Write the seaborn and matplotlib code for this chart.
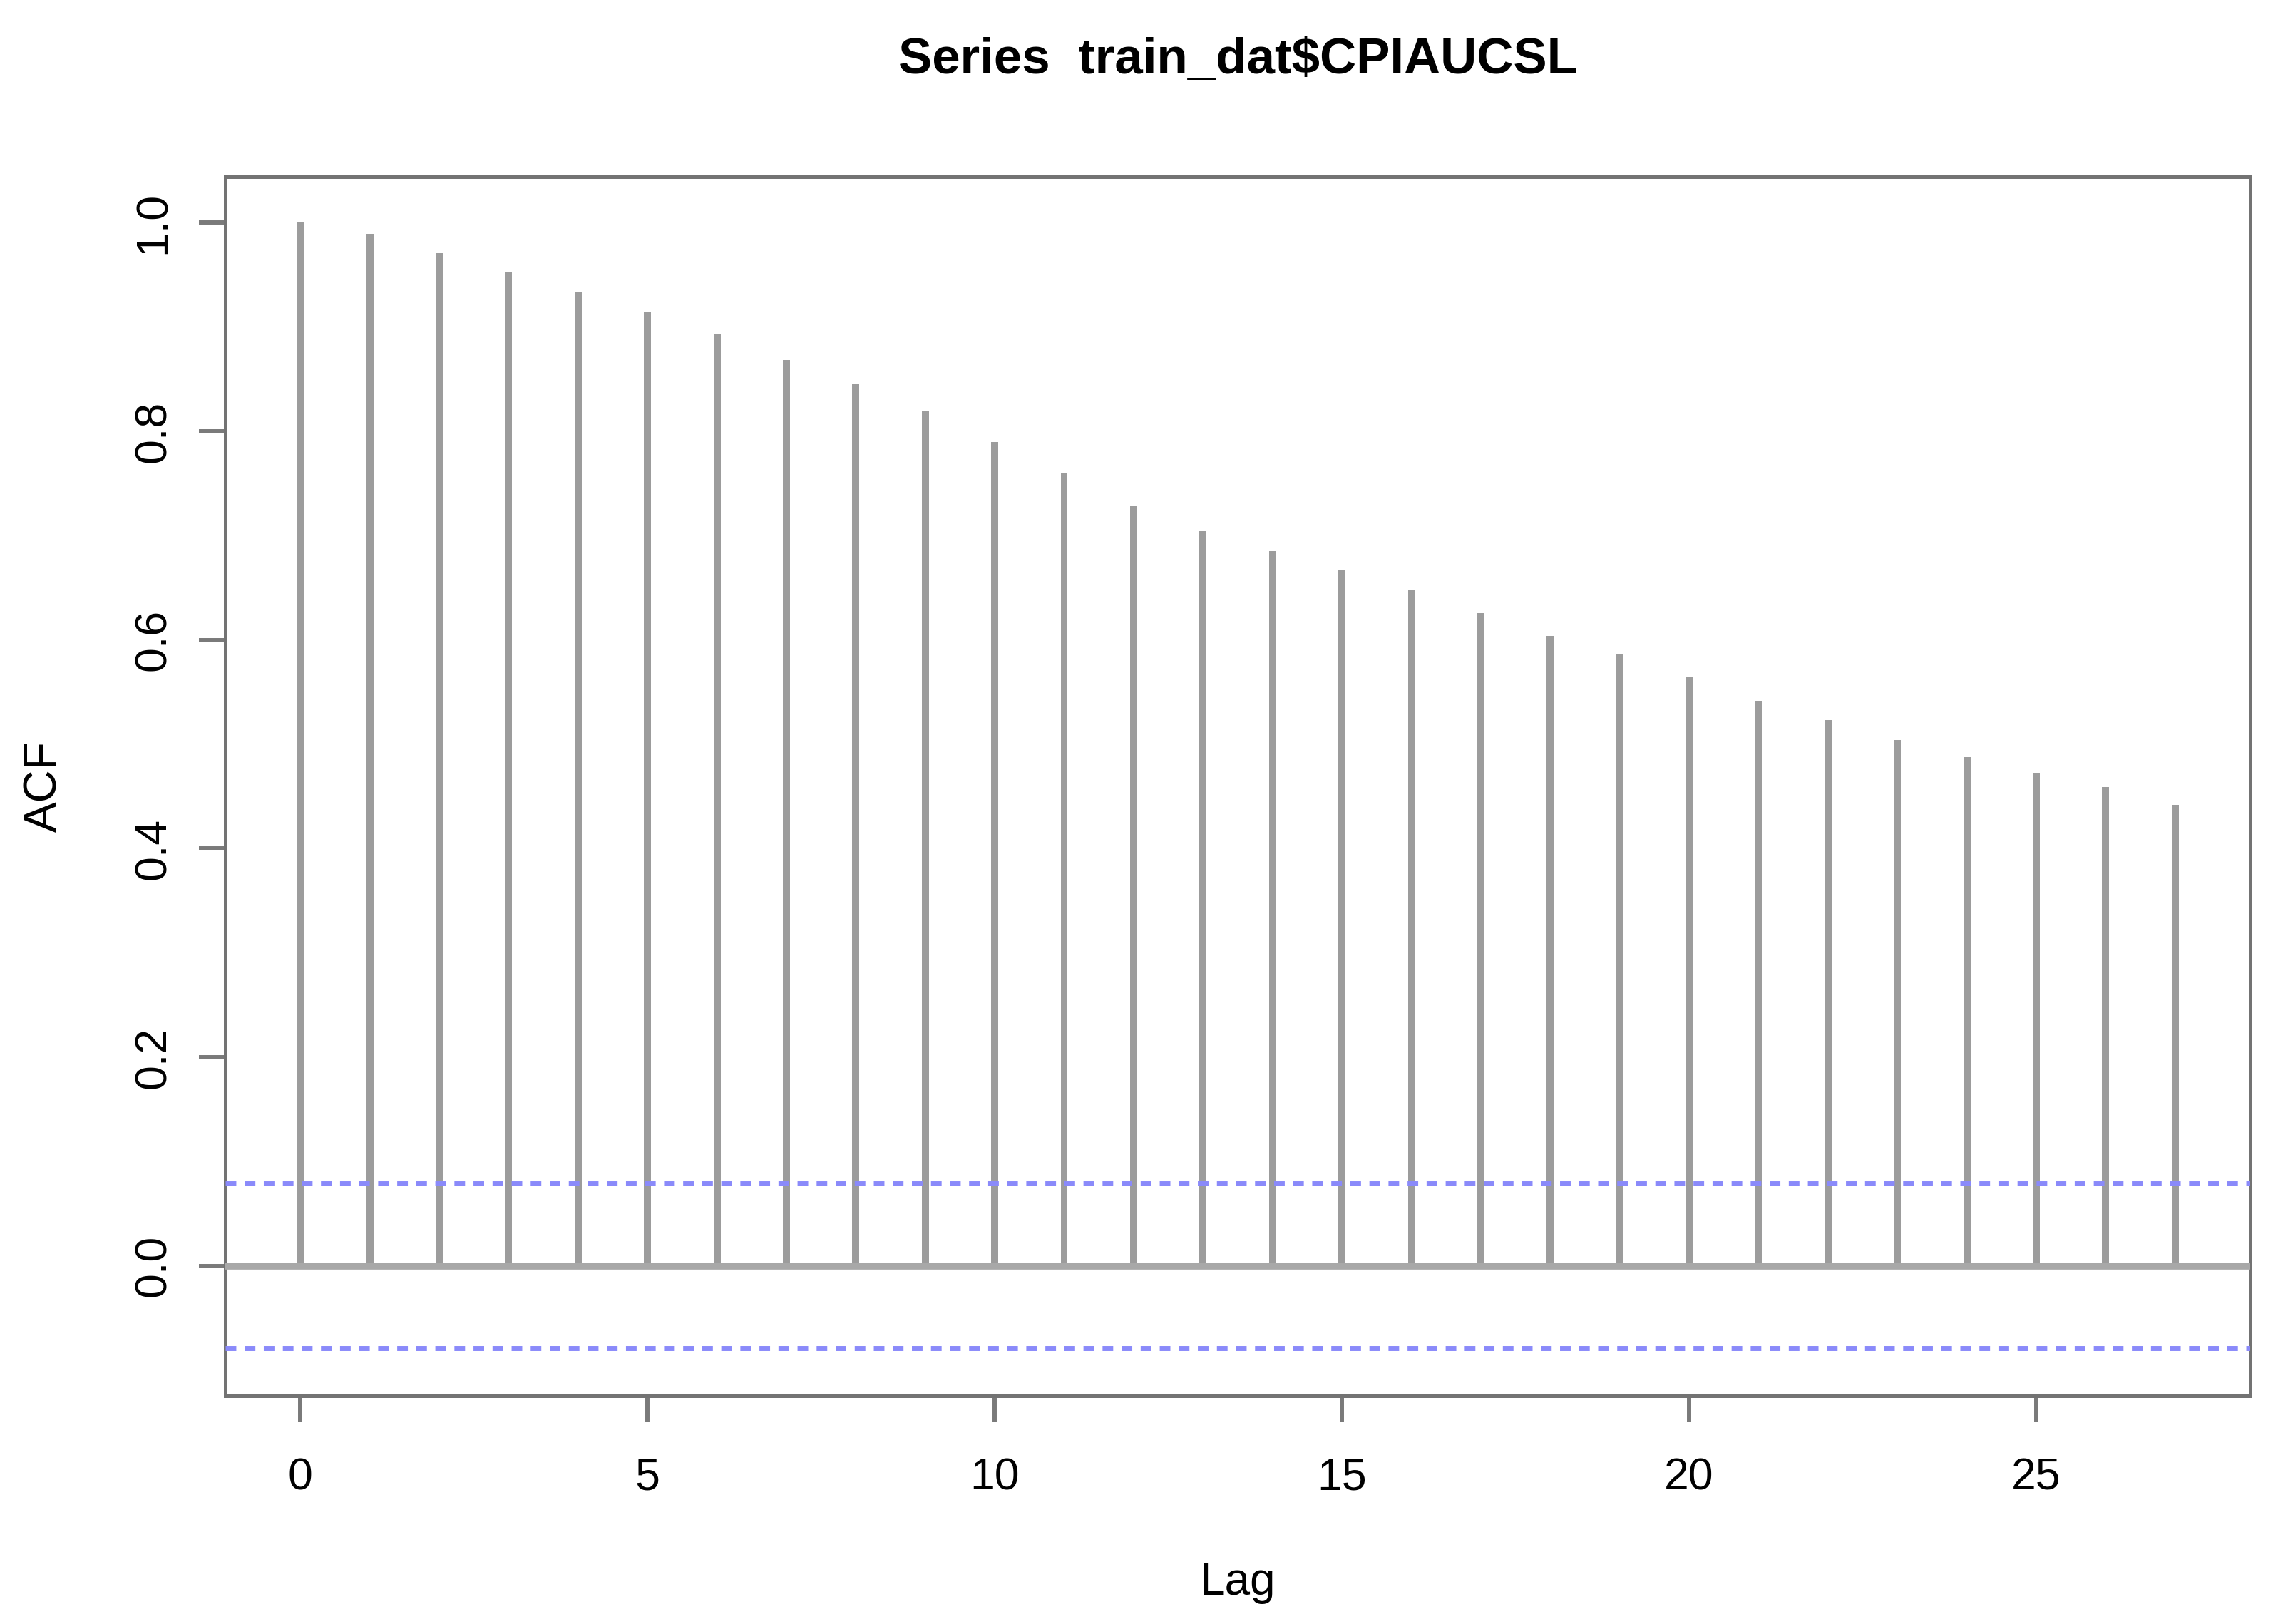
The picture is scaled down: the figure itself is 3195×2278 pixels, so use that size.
import numpy as np
import pandas as pd
import matplotlib
matplotlib.use("Agg")
import matplotlib.pyplot as plt
import seaborn as sns

# ---- data ----
lags = list(range(28))
acf_values = [1.000, 0.989, 0.971, 0.952, 0.934, 0.915, 0.893, 0.868,
              0.845, 0.819, 0.790, 0.760, 0.728, 0.704, 0.685, 0.667,
              0.648, 0.626, 0.604, 0.586, 0.564, 0.541, 0.523, 0.504,
              0.488, 0.473, 0.459, 0.442]
conf_limit = 0.079
title_text = "Series  train_dat$CPIAUCSL"
x_label = "Lag"
y_label = "ACF"
x_ticks = [0, 5, 10, 15, 20, 25]
x_tick_labels = ["0", "5", "10", "15", "20", "25"]
y_ticks = [0.0, 0.2, 0.4, 0.6, 0.8, 1.0]
y_tick_labels = ["0.0", "0.2", "0.4", "0.6", "0.8", "1.0"]

sns.set_theme(style="white")
plt.rcParams["font.family"] = ["Liberation Sans", "DejaVu Sans"]

fig = plt.figure(figsize=(31.95, 22.78), dpi=100)
fig.patch.set_facecolor("white")
ax = fig.add_axes([0.0989, 0.14065, 0.88889, 0.75062])
ax.set_facecolor("white")

df = pd.DataFrame({"Lag": lags, "ACF": acf_values})
sns.barplot(data=df, x="Lag", y="ACF", native_scale=True, width=0.102,
            color="#9c9c9c", saturation=1, linewidth=0, errorbar=None,
            ax=ax, zorder=2)

ax.axhline(0, color="#a8a8a8", lw=7.0, zorder=3)
for c in (conf_limit, -conf_limit):
    ax.axhline(c, color="#8a8afa", lw=5.0, linestyle=(0, (2.15, 1.7)), zorder=4)

ax.set_xlim(-1.08, 28.08)
ax.set_ylim(-0.1242, 1.0441)
ax.set_xticks(x_ticks, x_tick_labels)
ax.set_yticks(y_ticks, y_tick_labels, rotation=90, va="center")

for s in ax.spines.values():
    s.set_visible(True)
    s.set_color("#737373")
    s.set_linewidth(3.6)

ax.tick_params(axis="both", which="major", direction="out", length=26.6,
               width=4.3, color="#7a7a7a", labelsize=45, labelcolor="black",
               bottom=True, left=True)
ax.tick_params(axis="x", pad=35)
ax.tick_params(axis="y", pad=24.5)

ax.set_xlabel(x_label, fontsize=46, color="black")
ax.xaxis.set_label_coords(0.5, -0.1634)
ax.xaxis.label.set_verticalalignment("baseline")
ax.set_ylabel(y_label, fontsize=46, color="black")
ax.yaxis.set_label_coords(-0.0894, 0.5)
ax.yaxis.label.set_verticalalignment("center")

ax.set_title(title_text, fontsize=51, fontweight="bold", color="black",
             y=1.0846, va="baseline", pad=0)

fig.savefig("out.png", dpi=100, facecolor="white")
